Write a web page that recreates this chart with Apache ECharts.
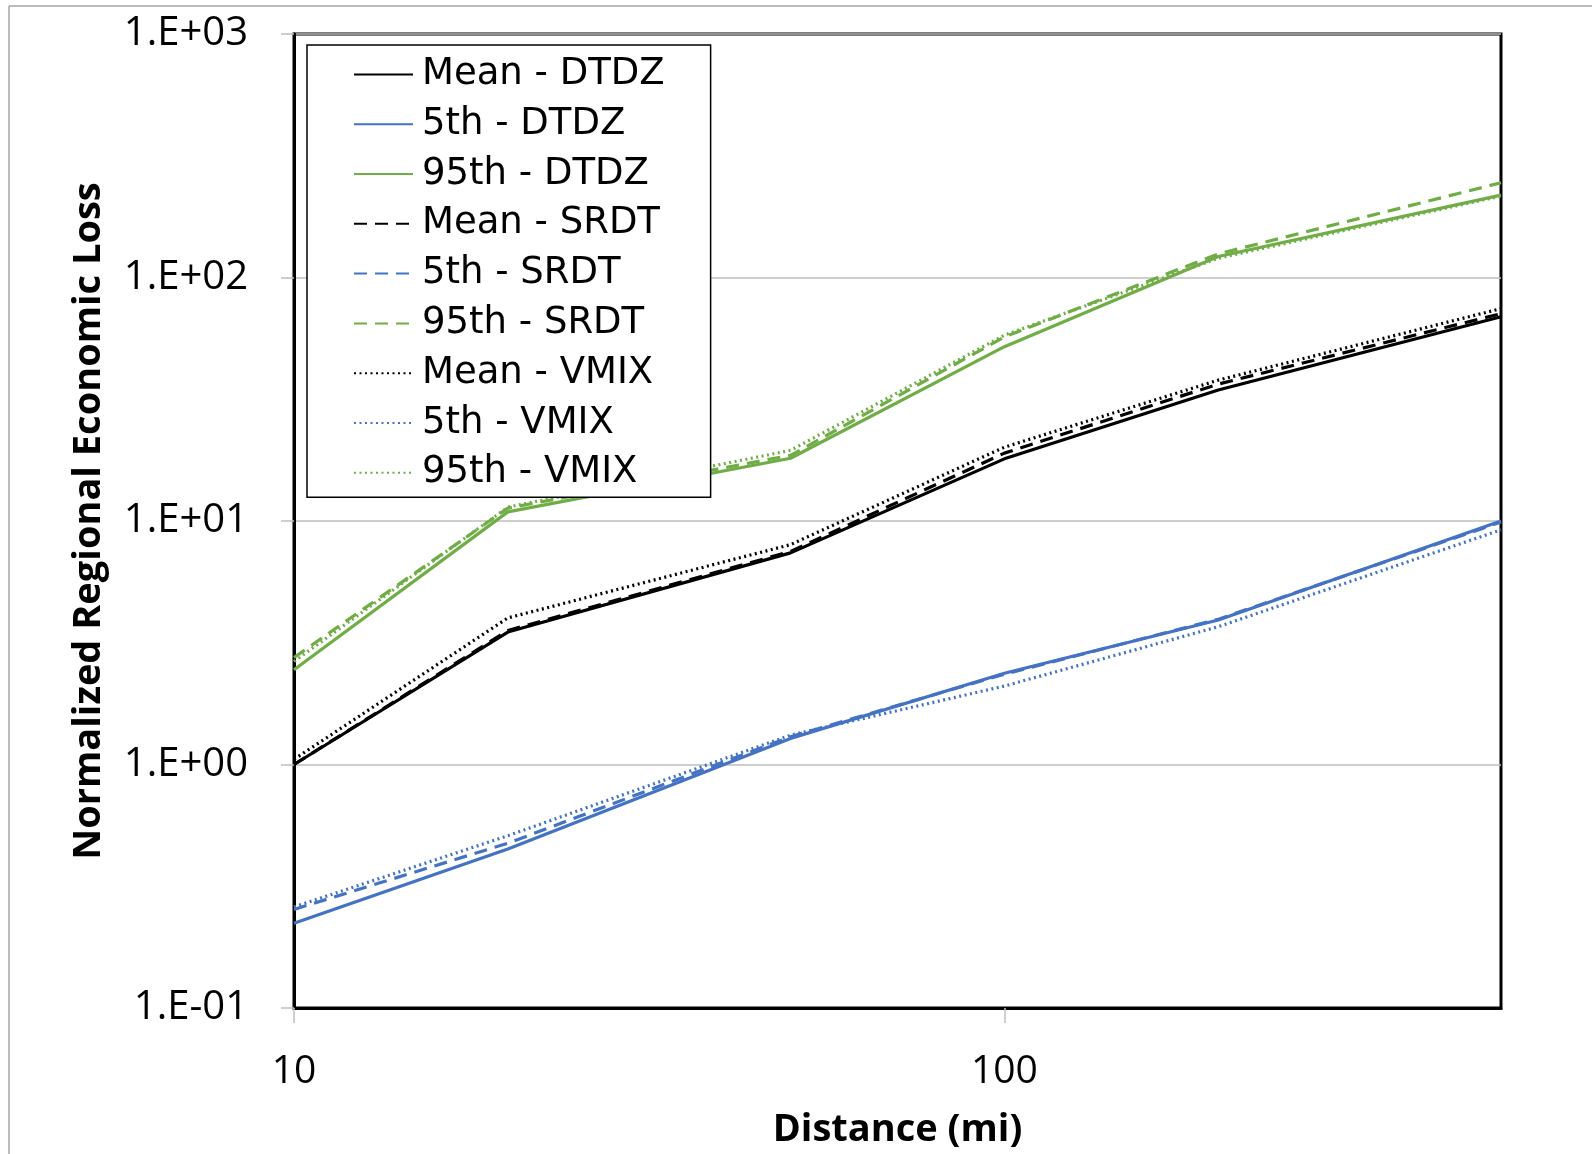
<!DOCTYPE html>
<html>
<head>
<meta charset="utf-8">
<script src="https://cdn.jsdelivr.net/npm/echarts@6/dist/echarts.min.js"></script>
<style>
  html, body { margin: 0; padding: 0; background: #fff; }
  #chart { width: 1592px; height: 1154px; }
</style>
</head>
<body>
<div id="chart"></div>
<script>
// Distance (mi)
const distances = [10, 20, 50, 100, 200, 500];

// Normalized regional economic loss
const meanDTDZ = [1.0, 3.5, 7.4, 18.0, 34.5, 69];
const p5DTDZ   = [0.223, 0.45, 1.28, 2.37, 3.92, 10.0];
const p95DTDZ  = [2.45, 10.9, 18.1, 52, 122, 218];

const meanSRDT = [1.0, 3.55, 7.5, 19.0, 36.5, 71];
const p5SRDT   = [0.254, 0.475, 1.30, 2.35, 3.95, 9.9];
const p95SRDT  = [2.75, 11.3, 18.6, 57, 125, 245];

const meanVMIX = [1.05, 4.0, 8.0, 20.1, 37.9, 74.5];
const p5VMIX   = [0.26, 0.51, 1.32, 2.1, 3.68, 9.2];
const p95VMIX  = [2.65, 11.4, 19.5, 58, 120, 216];

const seriesNames = [
  'Mean - DTDZ', '5th - DTDZ', '95th - DTDZ',
  'Mean - SRDT', '5th - SRDT', '95th - SRDT',
  'Mean - VMIX', '5th - VMIX', '95th - VMIX'
];
const seriesValues = [
  meanDTDZ, p5DTDZ, p95DTDZ,
  meanSRDT, p5SRDT, p95SRDT,
  meanVMIX, p5VMIX, p95VMIX
];

const BLACK = '#000000', BLUE = '#4472C4', GREEN = '#70AD47';
const colors = [BLACK, BLUE, GREEN, BLACK, BLUE, GREEN, BLACK, BLUE, GREEN];
const dashTypes = ['solid', 'solid', 'solid', [13, 8], [13, 8], [13, 8], [2, 3.5], [2, 3.5], [2, 3.5]];

const FONT = '"Open Sans", "DejaVu Sans", sans-serif';
const LEGEND_FONT = '"DejaVu Sans", "Open Sans", sans-serif';

function expLabel(v) {
  const e = Math.round(Math.log10(v));
  return '1.E' + (e < 0 ? '-' : '+') + String(Math.abs(e)).padStart(2, '0');
}

const series = seriesNames.map((name, i) => ({
  name: name,
  type: 'line',
  symbol: 'none',
  data: distances.map((d, j) => [d, seriesValues[i][j]]),
  lineStyle: { color: colors[i], width: 3.2, type: dashTypes[i] },
  itemStyle: { color: colors[i] },
  z: 2 + (8 - i) * 0.01
}));

const chart = echarts.init(document.getElementById('chart'), null, { renderer: 'canvas' });
chart.setOption({
  animation: false,
  backgroundColor: '#ffffff',
  grid: {
    left: 294, top: 34, right: 91, bottom: 146,
    show: true, borderColor: '#000', borderWidth: 3, backgroundColor: 'transparent'
  },
  xAxis: {
    type: 'log', logBase: 10, min: 10, max: 500,
    name: 'Distance (mi)', nameLocation: 'middle', nameGap: 103,
    nameTextStyle: { fontFamily: FONT, fontSize: 38, fontWeight: 'bold', color: '#000' },
    axisLine: { show: true, lineStyle: { color: '#000', width: 3 } },
    axisTick: { show: true, length: 15, lineStyle: { color: '#BFBFBF', width: 1.5 } },
    axisLabel: {
      fontFamily: FONT, fontSize: 39, color: '#000', margin: 44,
      showMaxLabel: false,
      formatter: v => (Math.abs(v - 10) < 1e-6 || Math.abs(v - 100) < 1e-6) ? String(Math.round(v)) : ''
    },
    splitLine: { show: false },
    minorTick: { show: false }
  },
  yAxis: {
    type: 'log', logBase: 10, min: 0.1, max: 1000,
    name: 'Normalized Regional Economic Loss', nameLocation: 'middle', nameGap: 186,
    nameRotate: 90,
    nameTextStyle: { fontFamily: FONT, fontSize: 38, fontWeight: 'bold', color: '#000' },
    axisLine: { show: true, lineStyle: { color: '#000', width: 3 } },
    axisTick: { show: true, length: 13, lineStyle: { color: '#BFBFBF', width: 1.5 } },
    axisLabel: { fontFamily: FONT, fontSize: 40, color: '#000', margin: 46, formatter: expLabel },
    splitLine: { show: true, lineStyle: { color: '#BFBFBF', width: 1.5 } }
  },
  legend: {
    orient: 'vertical',
    left: 307, top: 45,
    padding: [9, 46, 4, 46],
    itemWidth: 59, itemHeight: 14, itemGap: 9,
    backgroundColor: '#ffffff',
    borderColor: '#000', borderWidth: 1.5,
    itemStyle: { opacity: 0, borderWidth: 0 },
    textStyle: { fontFamily: LEGEND_FONT, fontSize: 37, color: '#000', lineHeight: 40.8, padding: [0, 0, 0, 4] },
    data: seriesNames.map(n => ({ name: n })),
    selectedMode: false
  },
  graphic: [
    { type: 'line', shape: { x1: 9, y1: 6, x2: 1592, y2: 6 }, style: { stroke: '#A6A6A6', lineWidth: 1.5 }, silent: true },
    { type: 'line', shape: { x1: 9, y1: 6, x2: 9, y2: 1154 }, style: { stroke: '#A6A6A6', lineWidth: 1.5 }, silent: true }
  ],
  series: series
});
</script>
</body>
</html>
